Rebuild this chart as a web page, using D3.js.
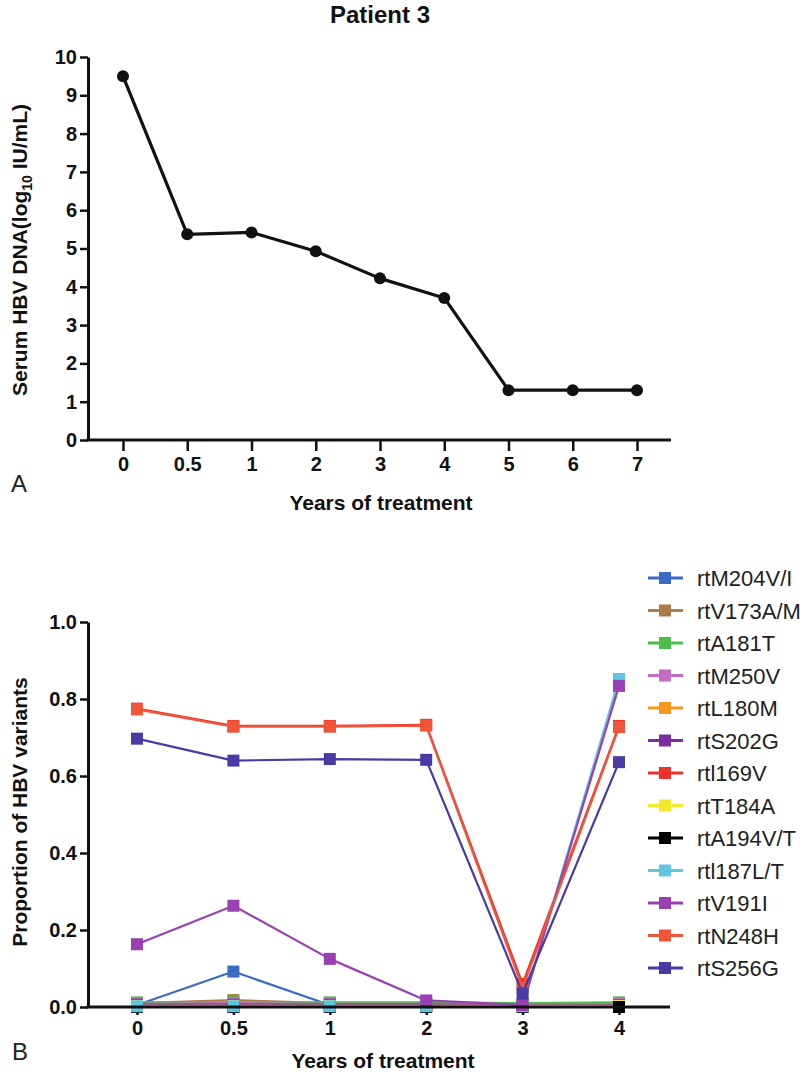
<!DOCTYPE html>
<html><head><meta charset="utf-8">
<script src="https://cdn.jsdelivr.net/npm/d3@7/dist/d3.min.js"></script>
<style>body{margin:0;background:#fff}svg{display:block}</style>
</head><body>
<svg id="c" width="800" height="1072"></svg>
<script>
// ---------- Panel A data ----------
const yearsA = ["0","0.5","1","2","3","4","5","6","7"];
const dnaA = [9.5, 5.37, 5.42, 4.93, 4.22, 3.71, 1.3, 1.3, 1.3];
const yTicksA = [0,1,2,3,4,5,6,7,8,9,10];

// ---------- Panel B data ----------
const yearsB = ["0","0.5","1","2","3","4"];
const yTicksB = [0, 0.2, 0.4, 0.6, 0.8, 1.0];
const variantNames = ["rtM204V/I","rtV173A/M","rtA181T","rtM250V","rtL180M","rtS202G","rtI169V","rtT184A","rtA194V/T","rtI187L/T","rtV191I","rtN248H","rtS256G"];
const legendLabels = ["rtM204V/I","rtV173A/M","rtA181T","rtM250V","rtL180M","rtS202G","rtl169V","rtT184A","rtA194V/T","rtl187L/T","rtV191I","rtN248H","rtS256G"];
const variantColors = ["#3b6cc4","#a87e48","#4cbd4a","#c46cc4","#f5961e","#7a2e9e","#ec3328","#f2ea2c","#000000","#5ec6df","#9a3fb4","#f0553a","#4a3aa6"];
const rtM204VI = [0.005, 0.092, 0.005, 0.003, 0.003, 0.003];
const rtV173AM = [0.010, 0.018, 0.010, 0.008, 0.005, 0.010];
const rtA181T  = [0.012, 0.012, 0.012, 0.012, 0.010, 0.012];
const rtM250V  = [0.008, 0.010, 0.008, 0.008, 0.005, 0.008];
const rtL180M  = [0.004, 0.004, 0.004, 0.004, 0.004, 0.004];
const rtS202G  = [0.006, 0.006, 0.006, 0.006, 0.005, 0.005];
const rtI169V  = [0.775, 0.730, 0.730, 0.733, 0.060, 0.730];
const rtT184A  = [0.003, 0.003, 0.003, 0.003, 0.003, 0.003];
const rtA194VT = [0.000, 0.000, 0.000, 0.000, 0.000, 0.000];
const rtI187LT = [0.002, 0.002, 0.002, 0.002, 0.002, 0.852];
const rtV191I  = [0.163, 0.263, 0.125, 0.017, 0.005, 0.834];
const rtN248H  = [0.773, 0.728, 0.728, 0.731, 0.050, 0.727];
const rtS256G  = [0.697, 0.640, 0.644, 0.642, 0.035, 0.636];
const variantValues = [rtM204VI, rtV173AM, rtA181T, rtM250V, rtL180M, rtS202G, rtI169V, rtT184A, rtA194VT, rtI187LT, rtV191I, rtN248H, rtS256G];

const svg = d3.select("#c");
const FONT = "'Liberation Sans', Arial, sans-serif";

function styleAxis(g, w) {
  g.selectAll(".domain").attr("stroke", "#111").attr("stroke-width", w);
  g.selectAll(".tick line").attr("stroke", "#111").attr("stroke-width", w - 0.5);
  g.selectAll(".tick text").attr("fill", "#111").style("font-family", FONT)
    .style("font-weight", "bold").style("font-size", "20px");
}

// ================= Panel A =================
const xA = d3.scalePoint().domain(yearsA).range([123, 637]);
const yA = d3.scaleLinear().domain([0, 10]).range([440, 57]);

svg.append("text").attr("x", 380).attr("y", 23).attr("text-anchor", "middle")
  .style("font-family", FONT).style("font-weight", "bold").style("font-size", "24px")
  .attr("fill", "#111").text("Patient 3");

const gyA = svg.append("g").attr("transform", "translate(88,0)")
  .call(d3.axisLeft(yA).tickValues(yTicksA).tickSize(8).tickSizeOuter(0).tickPadding(3).tickFormat(d3.format("d")));
styleAxis(gyA, 3);

const gxA = svg.append("g").attr("transform", "translate(0,440)")
  .call(d3.axisBottom(xA).tickSize(11).tickSizeOuter(0).tickPadding(6));
gxA.select(".domain").remove();
styleAxis(gxA, 3);
svg.append("line").attr("x1", 86.5).attr("x2", 671).attr("y1", 440).attr("y2", 440)
  .attr("stroke", "#111").attr("stroke-width", 3);

const lineA = d3.line().x((d, i) => xA(yearsA[i])).y(d => yA(d));
svg.append("path").datum(dnaA).attr("d", lineA).attr("fill", "none")
  .attr("stroke", "#111").attr("stroke-width", 3.2).attr("stroke-linejoin", "round");
svg.selectAll("circle.ptA").data(dnaA).enter().append("circle").attr("class", "ptA")
  .attr("cx", (d, i) => xA(yearsA[i])).attr("cy", d => yA(d)).attr("r", 6).attr("fill", "#111");

const ytA = svg.append("text").attr("transform", "translate(27,250) rotate(-90)").attr("text-anchor", "middle")
  .style("font-family", FONT).style("font-weight", "bold").style("font-size", "21px").attr("fill", "#111");
ytA.append("tspan").text("Serum HBV DNA(log");
ytA.append("tspan").attr("dy", 5).style("font-size", "14px").text("10");
ytA.append("tspan").attr("dy", -5).text(" IU/mL)");

svg.append("text").attr("x", 381).attr("y", 510).attr("text-anchor", "middle")
  .style("font-family", FONT).style("font-weight", "bold").style("font-size", "21px").attr("fill", "#111")
  .text("Years of treatment");
svg.append("text").attr("x", 11).attr("y", 492)
  .style("font-family", FONT).style("font-size", "24px").attr("fill", "#222").text("A");

// ================= Panel B =================
const xB = d3.scalePoint().domain(yearsB).range([137, 619]);
const yB = d3.scaleLinear().domain([0, 1]).range([1007, 622]);

const gyB = svg.append("g").attr("transform", "translate(88,0)")
  .call(d3.axisLeft(yB).tickValues(yTicksB).tickSize(8).tickSizeOuter(0).tickPadding(3).tickFormat(d3.format(".1f")));
styleAxis(gyB, 3);

const gxB = svg.append("g").attr("transform", "translate(0,1007)")
  .call(d3.axisBottom(xB).tickSize(8).tickSizeOuter(0).tickPadding(6));
gxB.select(".domain").remove();
styleAxis(gxB, 3);

const lineB = d3.line().x((d, i) => xB(yearsB[i])).y(d => yB(d));
variantValues.forEach((vals, k) => {
  svg.append("path").datum(vals).attr("d", lineB).attr("fill", "none")
    .attr("stroke", variantColors[k]).attr("stroke-width", 2.2).attr("stroke-linejoin", "round");
  svg.selectAll("rect.pt" + k).data(vals).enter().append("rect").attr("class", "pt" + k)
    .attr("x", (d, i) => xB(yearsB[i]) - 6).attr("y", d => yB(d) - 6)
    .attr("width", 12).attr("height", 12).attr("fill", variantColors[k]);
});
svg.append("line").attr("x1", 86.5).attr("x2", 670).attr("y1", 1007).attr("y2", 1007)
  .attr("stroke", "#111").attr("stroke-width", 3);

svg.append("text").attr("transform", "translate(27,812) rotate(-90)").attr("text-anchor", "middle")
  .style("font-family", FONT).style("font-weight", "bold").style("font-size", "21px").attr("fill", "#111")
  .text("Proportion of HBV variants");
svg.append("text").attr("x", 383).attr("y", 1068).attr("text-anchor", "middle")
  .style("font-family", FONT).style("font-weight", "bold").style("font-size", "21px").attr("fill", "#111")
  .text("Years of treatment");
svg.append("text").attr("x", 12).attr("y", 1060)
  .style("font-family", FONT).style("font-size", "24px").attr("fill", "#222").text("B");

// Legend
const lg = svg.append("g");
variantNames.forEach((n, k) => {
  const cy = 578 + k * 32.5;
  lg.append("line").attr("x1", 648).attr("x2", 683).attr("y1", cy).attr("y2", cy)
    .attr("stroke", variantColors[k]).attr("stroke-width", 3);
  lg.append("rect").attr("x", 659).attr("y", cy - 6).attr("width", 12).attr("height", 12)
    .attr("fill", variantColors[k]);
  lg.append("text").attr("x", 697).attr("y", cy + 8)
    .style("font-family", FONT).style("font-size", "22px").attr("fill", "#222").text(legendLabels[k]);
});
</script>
</body></html>
